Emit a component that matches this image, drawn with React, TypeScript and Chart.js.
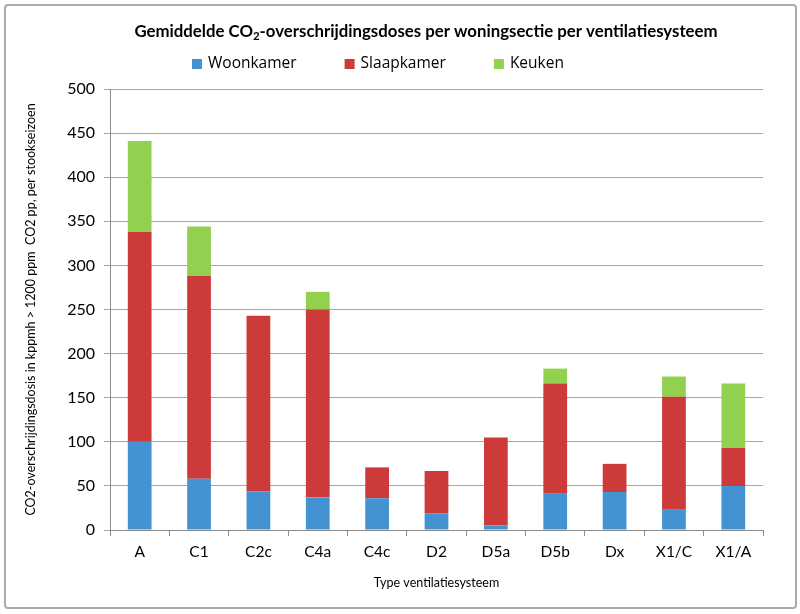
import React, { useEffect, useRef } from "react";
import { Chart, registerables } from "chart.js";

Chart.register(...registerables);

const categories = ["A", "C1", "C2c", "C4a", "C4c", "D2", "D5a", "D5b", "Dx", "X1/C", "X1/A"];
const woonkamer = [100, 58, 44, 37, 36, 19, 5, 41, 43, 23, 50];
const slaapkamer = [238, 230, 199, 213, 35, 48, 100, 125, 32, 128, 43];
const keuken = [103, 56, null, 20, null, null, null, 17, null, 23, 73];
const seriesNames = ["Woonkamer", "Slaapkamer", "Keuken"];
const seriesColors = ["#4393D3", "#CC3A3A", "#92D050"];
const yMin = 0;
const yMax = 500;
const yStep = 50;

const titleParts = ["Gemiddelde CO", "2", "-overschrijdingsdoses per woningsectie per ventilatiesysteem"];
const yTitle = "CO2-overschrijdingsdosis in kppmh > 1200 ppm  CO2 pp, per stookseizoen";
const xTitle = "Type ventilatiesysteem";

const FONT = "Lato, 'Open Sans', sans-serif";
const LEGEND_FONT = "'Open Sans', sans-serif";

const headerPlugin = {
  id: "header",
  afterDraw(chart: any) {
    const ctx = chart.ctx as CanvasRenderingContext2D;
    ctx.save();
    // title with subscript
    const big = "bold 16.8px " + FONT;
    const small = "bold 11.5px " + FONT;
    ctx.textBaseline = "middle";
    ctx.fillStyle = "#000";
    ctx.font = big;
    const w0 = ctx.measureText(titleParts[0]).width;
    const w2 = ctx.measureText(titleParts[2]).width;
    ctx.font = small;
    const w1 = ctx.measureText(titleParts[1]).width;
    const total = w0 + w1 + w2;
    let x = 426 - total / 2;
    const y = 32;
    ctx.textAlign = "left";
    ctx.font = big;
    ctx.fillText(titleParts[0], x, y);
    x += w0;
    ctx.font = small;
    ctx.fillText(titleParts[1], x, y + 4);
    x += w1;
    ctx.font = big;
    ctx.fillText(titleParts[2], x, y);

    // legend
    ctx.font = "15.5px " + LEGEND_FONT;
    let lx = 192;
    const ly = 64;
    chart.data.datasets.forEach((ds: any) => {
      ctx.fillStyle = ds.backgroundColor;
      ctx.fillRect(lx, ly - 5, 10, 10);
      lx += 16;
      ctx.fillStyle = "#000";
      ctx.fillText(ds.label, lx, ly);
      lx += ctx.measureText(ds.label).width + 48;
    });
    ctx.restore();
  },
};

export default function App() {
  const ref = useRef<HTMLCanvasElement>(null);
  useEffect(() => {
    if (!ref.current) return;
    const data = [woonkamer, slaapkamer, keuken];
    const chart = new Chart(ref.current, {
      type: "bar",
      data: {
        labels: categories,
        datasets: seriesNames.map((name, i) => ({
          label: name,
          data: data[i] as any,
          backgroundColor: seriesColors[i],
          borderWidth: 0,
          barPercentage: 0.4,
          categoryPercentage: 1,
        })),
      },
      options: {
        responsive: false,
        animation: false,
        layout: { padding: { top: 89, left: 10, right: 37, bottom: 10 } },
        plugins: {
          legend: { display: false },
          title: { display: false },
          tooltip: { enabled: false },
        },
        scales: {
          x: {
            stacked: true,
            grid: {
              display: true,
              drawOnChartArea: false,
              drawTicks: true,
              tickLength: 6,
              color: "#8c8c8c",
              offset: true,
            },
            border: { color: "#8c8c8c", width: 1 },
            ticks: { color: "#000", font: { family: FONT, size: 15.5 }, padding: 7, maxRotation: 0 },
            title: {
              display: true,
              text: xTitle,
              color: "#000",
              font: { family: FONT, size: 12.5 },
              padding: { top: 0, bottom: 14 },
            },
            afterFit: (s: any) => {
              s.height = 74;
            },
          },
          y: {
            stacked: true,
            min: yMin,
            max: yMax,
            ticks: { stepSize: yStep, color: "#000", font: { family: FONT, size: 16 }, padding: 9 },
            grid: { color: "#a6a6a6", tickLength: 6, lineWidth: 1 },
            border: { color: "#8c8c8c", width: 1 },
            title: {
              display: true,
              text: yTitle,
              color: "#000",
              font: { family: FONT, size: 12.5 },
              padding: { top: 13, bottom: 0 },
            },
            afterFit: (s: any) => {
              s.width = 100;
            },
          },
        },
      },
      plugins: [headerPlugin],
    });
    return () => chart.destroy();
  }, []);

  return (
    <div style={{ position: "fixed", left: 0, top: 0, width: 800, height: 614, background: "#fff" }}>
      <canvas ref={ref} width={800} height={614} style={{ position: "absolute", left: 0, top: 0 }} />
      <div
        style={{
          position: "absolute",
          left: 4,
          top: 4,
          width: 789,
          height: 601,
          border: "2px solid #ababab",
          borderRadius: 4,
          pointerEvents: "none",
        }}
      />
    </div>
  );
}
